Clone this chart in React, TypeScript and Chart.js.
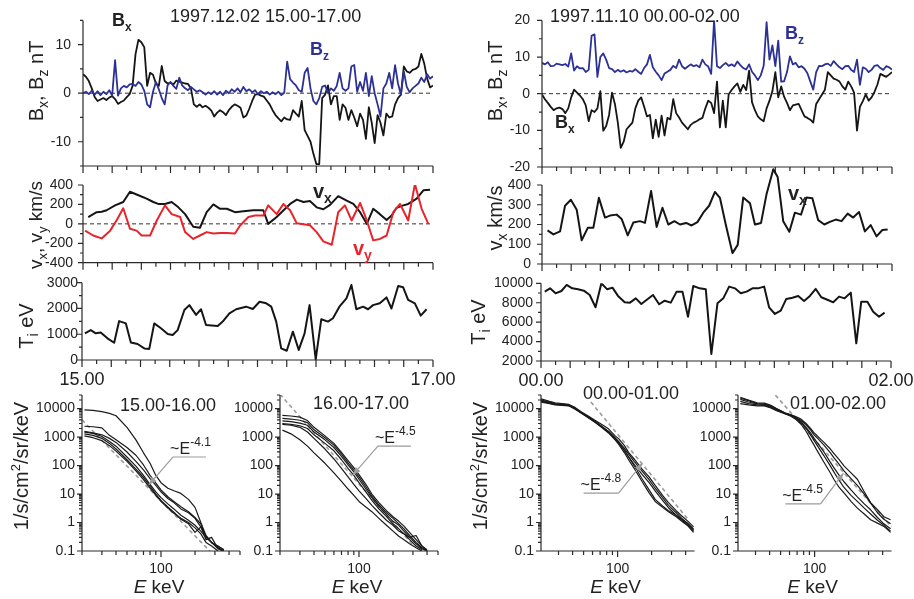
import React, { useEffect, useRef } from 'react';
import { Chart, registerables } from 'chart.js';
Chart.register(...registerables);

const W = 914, H = 599;
const FONT = '"Liberation Sans", Arial, Helvetica, sans-serif';
const INK = '#222222';
const BLACK = '#151515';
const BLUE = '#2c3194';
const RED = '#e8242b';
const GRAY = '#9c9c9c';

// ---------------- time axis (minutes from start of interval) ----------------
const T_MAJOR = [0, 10, 20, 30, 40, 50, 60, 70, 80, 90, 100, 110, 120];
const T_MINOR = [5, 15, 25, 35, 45, 55, 65, 75, 85, 95, 105, 115];
const TIME_B = Array.from({ length: 121 }, (_, i) => i); // 1-min samples

// ---------------- 1997.12.02 ----------------
const BX_L = [3.9, 3.4, 2.5, 1.0, -0.8, -1.6, -1.3, -1.0, -1.4, -0.9,
  -0.6, -1.2, -2.2, -1.8, -1.5, -0.8, -0.2, 1.5, 8.0, 11.0,
  10.5, 9.5, 1.5, 4.2, 3.8, 2.0, 1.5, 5.6, 2.5, 2.0,
  2.2, 1.8, 2.6, 2.4, 2.2, 2.0, 1.9, 1.0, -2.3, -2.8,
  -2.3, -2.9, -2.6, -3.0, -3.6, -4.8, -4.0, -3.5, -3.9, -4.5,
  -3.5, -2.8, -2.3, -2.6, -3.0, -5.0, -4.6, -3.2, -1.6, -0.3,
  -0.2, -0.5, -0.7, -1.5, -2.3, -3.5, -4.5, -5.2, -5.8, -5.0,
  -5.4, -5.5, -3.5, -4.2, -4.8, -1.6, -7.6, -8.8, -10.0, -12.5,
  -14.6, -14.6, -1.0, -0.3, 1.6, -2.3, -0.6, -0.6, -5.5, -2.3,
  -3.0, -5.5, -3.5, -5.0, -6.8, -4.2, -5.5, -9.4, -2.9, -6.1,
  -10.3, -4.5, -6.1, -8.7, -4.2, -5.0, -4.8, -2.3, -1.0, -0.3,
  5.5, 4.5, 4.2, 4.8, 5.0, 5.5, 8.1, 6.1, 3.0, 1.2, 1.6];
const BZ_L = [0, 0.3, -0.2, 0.5, -0.3, 0.4, -0.4, 0.3, -0.2, 0.6,
  -0.5, 6.8, -0.5, 1.0, 1.5, 1.2, 1.8, 1.9, 1.5, 2.3,
  1.8, 0.5, -2.3, -2.9, 0.3, 2.3, 0.8, -1.0, -2.3, 1.6,
  2.3, 1.5, 0.9, 3.2, 1.6, 1.0, 0.6, 1.3, 0.8, 0.3,
  0.6, 0.2, -0.3, 0.2, -0.2, 0.4, -0.3, 0.3, -0.4, 0.5,
  0.0, 0.8, 0.3, 1.0, 0.2, 1.3, 0.4, 0.8, 0.2, 0.6,
  -0.2, 0.4, 0.0, 0.3, -0.3, 0.2, -0.2, 0.3, -0.4, 0.1,
  6.5, 2.9, 2.2, 1.6, 0.6, 0.3, 4.2, 5.2, 1.0, -1.6,
  -2.3, -1.0, 1.3, 1.6, 0.0, 1.0, 0.5, 1.5, 4.2, 1.0,
  0.5, 1.0, 5.5, 5.8, 0.3, 2.3, 0.5, 4.2, -0.6, 3.5,
  0.0, -2.3, -4.8, 1.0, 2.0, 4.2, 1.0, 5.8, 2.0, -0.3,
  4.5, 1.3, 0.2, 1.0, 1.5, 2.0, 3.2, 2.3, 3.9, 3.0, 3.5];

const VX_L_T = [1.8, 4.7, 6.4, 8.1, 11, 13.8, 16.1, 19, 21.8, 24.1, 25.8, 28.1, 30.4, 32.7, 35, 37.8, 40.1, 42.4, 44.7, 47,
  49.3, 52.1, 55, 58.4, 61.8, 63.5, 66.4, 69.3, 71, 73.3, 75.6, 77.8, 80.1, 82.4, 84.7, 87.5, 90.4, 92.7, 95, 97.3,
  99.5, 101.8, 104.1, 105.8, 107.5, 109.8, 111.5, 114.4, 116.7, 119];
const VX_L = [70, 120, 125, 140, 190, 225, 330, 295, 260, 225, 205, 205, 225, 170, 100, -30, -40, 120, 200, 155,
  155, 120, 130, 140, 140, 0, 70, 155, 205, 250, 225, 235, 170, 150, 195, 285, 240, 205, 120, 0,
  155, 100, 40, 85, 165, 190, 205, 260, 345, 350];
const VY_L_T = [0.7, 3.5, 6.4, 9.3, 11.5, 13.8, 16.1, 18.4, 20.1, 23, 25.3, 28.1, 30.4, 33.3, 35, 37.8, 40.1, 42.4, 44.7, 47,
  49.3, 52.1, 53.8, 56.7, 59, 61.8, 63.5, 66.4, 68.7, 71, 73.3, 75.6, 77.8, 80.1, 82.4, 85.3, 87.5, 89.8, 92.1, 95,
  97.3, 99.5, 101.8, 104.1, 106.4, 108.7, 111.5, 113.8, 116.1, 118.4];
const VY_L = [-70, -120, -150, -70, 35, 160, -50, -70, -120, -120, 35, 190, 100, 70, -85, -155, -120, -85, -100, -95,
  -95, -100, -20, 70, 85, 85, 190, 100, 205, 140, 5, -5, -15, -85, -180, -215, 120, 190, 35, 215,
  35, -170, -155, -120, 120, 205, 35, 410, 155, 0];

const TI_L_T = [1, 3, 4.7, 6.4, 8.7, 11, 12.7, 15, 16.7, 19, 21.3, 23, 24.7, 27, 29.3, 31, 32.7, 35, 36.7, 39,
  40.7, 42.4, 46.4, 48.1, 50.4, 52.7, 56.1, 58.4, 60.7, 63, 64.7, 66.4, 68.1, 70, 72.1, 74.1, 76.1, 77.8, 79.9, 81.8,
  84.1, 85.8, 88, 90.4, 92.1, 93.8, 96.1, 97.8, 99.5, 101.8, 104.1, 105.8, 108.1, 109.8, 111.5, 113.8, 115.8, 117.8];
const TI_L = [1035, 1160, 1035, 1070, 840, 670, 1510, 1420, 680, 620, 450, 430, 1420, 1230, 1010, 970, 1160, 1940, 2130, 1750,
  1970, 1360, 1320, 1490, 1810, 1970, 2070, 1980, 2260, 2200, 2070, 1490, 450, 360, 1100, 390, 1035, 2130, 25, 1580,
  1490, 1620, 2070, 2390, 2910, 1970, 2070, 1970, 2130, 2200, 2430, 2000, 2870, 2820, 2330, 2200, 1720, 1970];

// ---------------- 1997.11.10 ----------------
const BX_R = [-0.2, -1.5, -2.5, -3.6, -4.5, -4.0, -3.8, -4.2, -5.3, -4.0,
  -1.0, 1.1, 0.3, -0.5, -1.5, -3.2, -7.5, -4.5, -5.0, -4.0,
  0.7, -10.1, -8.8, -5.8, 0.3, -2.8, -7.9, -14.8, -13.1, -9.7,
  -8.8, -7.9, -4.0, -1.9, -1.0, -3.5, -6.2, -5.8, -12.2, -7.1,
  -11.8, -6.0, -11.4, -6.6, -7.0, -1.5, -5.3, -6.5, -7.9, -8.8,
  -9.7, -8.5, -7.9, -7.5, -7.0, -6.6, -4.0, -1.9, -2.5, -5.3,
  3.3, -9.2, -1.9, -9.2, -0.2, 1.0, 2.0, 2.8, 0.5, 2.4,
  1.0, 6.3, -2.3, -4.5, -6.2, -7.0, -7.5, -4.0, -1.9, 0.7,
  5.9, -1.0, 2.0, -0.8, -2.5, -4.5, -3.2, -3.0, -2.8, -4.5,
  -6.2, -6.6, -7.1, -7.9, -2.8, -1.5, -0.2, 1.1, 5.9, 5.0,
  4.1, 3.8, 3.3, 2.0, 1.1, 3.3, 2.0, 0.3, -10.1, -3.6,
  -2.0, -0.2, -1.9, -1.0, 0.5, 2.5, 5.4, 5.0, 4.6, 5.2, 5.9];
const BZ_R = [8.4, 8.0, 8.6, 7.5, 7.6, 8.2, 8.0, 7.8, 8.1, 7.4,
  11.0, 6.3, 7.5, 6.9, 7.0, 5.9, 6.5, 15.8, 16.2, 4.6,
  10.0, 11.0, 9.3, 7.0, 6.7, 5.9, 6.5, 6.0, 6.4, 5.8,
  6.2, 6.0, 6.7, 6.0, 5.4, 7.0, 8.0, 10.6, 7.2, 6.0,
  5.0, 3.7, 5.5, 6.0, 6.5, 7.6, 7.0, 9.3, 7.5, 6.8,
  7.4, 8.0, 7.5, 7.8, 7.2, 9.3, 8.0, 7.4, 5.4, 20.0,
  7.5, 7.0, 7.8, 8.4, 7.6, 8.0, 7.5, 8.8, 7.8, 7.0,
  6.6, 8.0, 6.0, 5.0, 3.7, 5.0, 7.6, 19.5, 9.3, 13.2,
  7.5, 14.5, 3.3, 3.4, 5.9, 10.2, 8.0, 8.4, 7.2, 7.5,
  6.8, 5.6, 3.3, 1.1, 5.9, 7.6, 7.5, 8.0, 8.2, 7.6,
  8.9, 8.0, 7.2, 6.7, 7.5, 7.6, 6.5, 5.9, 9.3, 2.4,
  7.2, 6.8, 5.9, 6.5, 7.6, 7.8, 7.0, 6.5, 7.5, 7.2, 6.6];

const VX_R_T = [1.9, 3.9, 6.2, 7.9, 9.9, 11.9, 13.6, 15.7, 17.6, 19.5, 21.6, 23.3, 25.6, 27.3, 29.4, 31.3, 33.6, 35.3, 37.4, 39.3,
  41.3, 43.3, 45.4, 47.3, 49.4, 51.3, 53.3, 55.3, 57.3, 59.3, 61, 63, 65.3, 67.1, 69, 71.3, 73, 75.1, 77, 79.3,
  80.8, 82.7, 84.8, 86.7, 88.8, 90.7, 92.7, 94.7, 96.8, 98.7, 100.7, 102.7, 104.8, 106.7, 108.7, 110.7, 112.7, 114.7, 116.7, 118.5];
const VX_R = [170, 150, 165, 295, 325, 275, 120, 183, 183, 335, 235, 245, 250, 228, 145, 210, 217, 208, 370, 188,
  285, 200, 217, 200, 208, 195, 212, 260, 295, 365, 335, 200, 55, 97, 337, 308, 200, 208, 355, 480,
  440, 217, 163, 260, 250, 337, 333, 222, 200, 213, 225, 217, 255, 235, 263, 165, 197, 140, 172, 175];

const TI_R_T = [1.3, 3.1, 5, 7, 8.8, 10.7, 12.7, 14.7, 16.7, 18.7, 20.7, 22.7, 24.5, 26.4, 28.7, 30.5, 32.5, 34.4, 36.5, 38.4,
  40.5, 42.4, 44.5, 46.5, 48.5, 50.4, 52.2, 54.4, 56.5, 58.4, 60.5, 62.5, 64.5, 66.5, 68.5, 70.5, 72.5, 74.4, 76.5, 78.2,
  80.2, 82.2, 84.1, 86.2, 88.2, 90.2, 92.2, 94.2, 96.1, 98.4, 100.2, 102.2, 104.1, 106.2, 108.1, 109.8, 111.9, 113.9, 115.9, 117.8];
const TI_R = [9140, 9480, 8970, 9210, 9830, 9480, 9380, 9240, 8800, 7530, 10000, 9380, 9550, 8700, 8040, 8010, 8450, 7870, 8350, 8800,
  7840, 8210, 8010, 9140, 9140, 6560, 9720, 9480, 9380, 2720, 7940, 8450, 9660, 9480, 8970, 9140, 9480, 9480, 9660, 7530,
  6840, 7180, 8390, 8520, 8700, 8180, 8700, 9420, 8560, 8280, 8040, 8630, 8450, 9040, 3820, 8110, 8110, 7080, 6560, 6980];

// ---------------- energy spectra ----------------
const E_L1 = [21, 25, 30, 35, 40, 50, 60, 70, 80, 90, 100, 115, 130, 150, 175, 200, 225, 250, 280, 320, 360];
const L1_C1 = [9000, 8600, 7800, 6800, 5600, 2200, 800, 280, 120, 45, 25, 16, 13, 10.5, 6.5, 3.4, 1.0, 0.35, 0.2, 0.14, 0.11];
const L1_C2 = [2400, 2300, 2100, 1150, 800, 430, 230, 105, 45, 24, 14, 8, 5.5, 3.6, 2.4, 1.5, 0.9, 0.3, 0.2, 0.15, 0.11];
const L1_C3 = [1600, 1400, 1200, 900, 650, 300, 140, 70, 35, 20, 12, 7, 5, 3, 2.2, 1.4, 0.7, 0.35, 0.2, 0.12, 0.1];
const L1_C4 = [1500, 1350, 1050, 700, 480, 200, 95, 45, 22, 12, 7.5, 4.5, 3, 1.8, 1.2, 0.8, 0.5, 0.3, 0.2, 0.13, 0.1];
const L1_C5 = [1300, 1150, 900, 600, 380, 160, 75, 38, 19, 10, 6, 3.5, 2.3, 1.3, 0.9, 0.45, 0.7, 0.25, 0.3, 0.12, 0.1];
const L1_C6 = [1100, 950, 750, 500, 320, 140, 65, 32, 16, 9, 5.5, 3.2, 2.1, 1.4, 1.0, 0.65, 0.4, 0.2, 0.15, 0.1, null];
const L1_FIT_E = [20, 270];
const L1_FIT_F = [4000, 0.1];

const E_L2 = [21, 25, 30, 35, 40, 50, 60, 70, 80, 90, 100, 115, 130, 150, 175, 200, 225, 250, 280, 320, 360, 400];
const L2_C1 = [5800, 5500, 5000, 3800, 2200, 1100, 600, 290, 150, 85, 48, 22, 10, 5, 2.6, 1.6, 1.1, 0.75, 0.45, 0.25, 0.15, 0.11];
const L2_C2 = [4500, 4300, 3900, 3200, 1800, 950, 520, 250, 125, 70, 40, 18, 8.5, 4.2, 2.2, 1.4, 0.9, 0.6, 0.35, 0.2, 0.13, 0.1];
const L2_C3 = [3700, 3500, 3100, 2600, 1500, 800, 430, 210, 105, 60, 33, 15, 7.5, 3.6, 1.9, 1.1, 0.8, 0.5, 0.3, 0.35, 0.15, 0.1];
const L2_C4 = [3000, 2800, 2500, 2000, 1200, 600, 330, 160, 80, 45, 25, 12, 6, 3, 1.6, 0.9, 0.6, 0.4, 0.25, 0.15, 0.11, null];
const L2_C5 = [2800, 2600, 2200, 1500, 900, 380, 170, 80, 40, 22, 13, 7, 4, 2.2, 1.2, 0.8, 0.5, 0.4, 0.3, 0.18, 0.12, 0.1];
const L2_C6 = [1750, 1300, 800, 480, 280, 120, 55, 28, 15, 9, 5.5, 3.5, 2.4, 1.4, 0.8, 0.5, 0.33, 0.25, 0.18, 0.13, 0.1, null];
const L2_FIT_E = [20, 300];
const L2_FIT_F = [32000, 0.16];

const E_R1 = [21, 25, 28, 32, 37, 42, 48, 55, 63, 72, 83, 95, 102, 115, 125, 140, 164, 190, 215, 250, 282, 330, 370, 420, 470];
const R1_C1 = [22000, 18000, 16000, 15000, 14000, 11000, 7600, 5500, 3900, 2800, 1950, 1100, 880, 500, 290, 170, 76, 40, 20, 9, 5, 2.6, 1.7, 1.1, 0.7];
const R1_C2 = [19000, 16000, 14500, 14000, 13000, 10000, 7000, 5000, 3500, 2400, 1600, 950, 700, 400, 250, 140, 65, 32, 16, 7.5, 4, 2.2, 1.4, 0.9, 0.6];
const R1_C3 = [17000, 15000, 13500, 13000, 12500, 9500, 6800, 4800, 3300, 2300, 1500, 850, 600, 340, 200, 110, 50, 25, 13, 6, 3.3, 1.8, 1.2, 0.8, 0.5];
const R1_C4 = [20000, 17000, 15000, 14500, 13500, 10500, 7200, 5200, 3600, 2400, 1500, 900, 650, 330, 200, 100, 35, 14, 6.5, 3.8, 2.6, 1.8, 1.3, 0.9, 0.55];
const R1_C5 = [18000, 15500, 14000, 13500, 12800, 9800, 6900, 4900, 3400, 2200, 1400, 800, 560, 280, 160, 80, 28, 11, 5.5, 3.4, 2.4, 1.6, 1.1, 0.75, 0.45];
const R1_FIT_E = [58, 420];
const R1_FIT_F = [17000, 1.3];

const E_R2 = [22, 26, 31, 36, 41, 46, 50, 55, 61, 68, 75, 84, 92, 99, 105, 121, 138, 148, 165, 182, 210, 239, 275, 313, 360, 410, 470];
const R2_C1 = [25000, 20000, 16000, 15500, 13000, 10000, 8500, 7000, 6200, 5200, 4400, 3000, 2000, 1400, 1130, 650, 380, 270, 160, 98, 55, 33, 12, 5, 2.8, 1.6, 1.25];
const R2_C2 = [23000, 19000, 15000, 14500, 12500, 9800, 8300, 6900, 6100, 5000, 4000, 2700, 1800, 1200, 950, 520, 280, 190, 110, 65, 35, 20, 10, 4.8, 2.2, 1.3, 0.9];
const R2_C3 = [21000, 17000, 14500, 14000, 12000, 9500, 8000, 6800, 6000, 4800, 3600, 2200, 1400, 900, 650, 300, 130, 85, 45, 27, 14, 8, 4.5, 2.8, 1.5, 0.9, 0.6];
const R2_C4 = [18000, 15000, 13500, 13000, 11000, 9000, 7800, 6600, 5800, 4600, 3400, 2000, 1200, 750, 520, 220, 95, 60, 30, 17, 9, 5.5, 3.2, 2.0, 1.2, 0.8, 0.5];
const R2_C5 = [15000, 13500, 12500, 12500, 10500, 8500, 7500, 6500, 5500, 4200, 3000, 1600, 850, 520, 340, 130, 55, 33, 17, 11, 5.5, 3.2, 2.0, 1.25, 0.95, 0.73, 0.45];
const R2_FIT_E = [45, 480];
const R2_FIT_F = [29700, 0.7];

const SPEC_Y_LABELS = [0.1, 1, 10, 100, 1000, 10000];
const SPEC_Y_MINOR: number[] = [];
for (const d of [0.1, 1, 10, 100, 1000, 10000]) for (let k = 2; k <= 9; k++) if (d * k <= 30000) SPEC_Y_MINOR.push(d * k);
const SPEC_X_MAJOR = [100];
const SPEC_X_MINOR = [20, 30, 40, 50, 60, 70, 80, 90, 200, 300, 400, 500];

// annotation anchors (in data coordinates: keV, flux)
const ANN_L1 = { e0: 128, e1: 250, f: 200, ea: 78, fa: 21, from: 'start', exp: '-4.1' };
const ANN_L2 = { e0: 147, e1: 288, f: 480, ea: 88, fa: 46, from: 'start', exp: '-4.5' };
const ANN_R1 = { e0: 50, e1: 102, f: 10.8, ea: 166, fa: 122, from: 'end', exp: '-4.8' };
const ANN_R2 = { e0: 55, e1: 113, f: 4.5, ea: 180, fa: 54, from: 'end', exp: '-4.5' };

// ---------------- helpers ----------------
type Seg = { t: string; s?: 'sub' | 'sup'; i?: boolean };
type RichOpt = { size: number; color?: string; bold?: boolean; align?: 'left' | 'center'; rot?: boolean; sc?: number; rise?: number; drop?: number };

function drawRich(ctx: CanvasRenderingContext2D, segs: Seg[], x: number, y: number, o: RichOpt) {
  const sc = o.sc ?? 0.68;
  const fontFor = (sg: Seg) => `${sg.i ? 'italic ' : ''}${o.bold ? 'bold ' : ''}${sg.s ? Math.round(o.size * sc) : o.size}px ${FONT}`;
  ctx.save();
  let w = 0;
  for (const sg of segs) { ctx.font = fontFor(sg); w += ctx.measureText(sg.t).width; }
  ctx.translate(x, y);
  if (o.rot) ctx.rotate(-Math.PI / 2);
  let cx = o.align === 'center' ? -w / 2 : 0;
  ctx.fillStyle = o.color ?? INK;
  ctx.textBaseline = 'alphabetic';
  ctx.textAlign = 'left';
  for (const sg of segs) {
    ctx.font = fontFor(sg);
    const dy = sg.s === 'sub' ? o.size * (o.drop ?? 0.26) : sg.s === 'sup' ? -o.size * (o.rise ?? 0.42) : 0;
    ctx.fillText(sg.t, cx, dy);
    cx += ctx.measureText(sg.t).width;
  }
  ctx.restore();
}

function plainText(ctx: CanvasRenderingContext2D, t: string, x: number, y: number, size: number, align: CanvasTextAlign = 'left') {
  ctx.save();
  ctx.font = `${size}px ${FONT}`;
  ctx.fillStyle = INK;
  ctx.textAlign = align;
  ctx.textBaseline = 'alphabetic';
  ctx.fillText(t, x, y);
  ctx.restore();
}

function series(xs: number[], ys: (number | null)[], color: string, width: number, extra: any = {}) {
  return {
    data: xs.map((x, i) => ({ x, y: ys[i] })),
    borderColor: color, borderWidth: width, pointRadius: 0, tension: 0, fill: false, spanGaps: false,
    borderJoinStyle: 'round', ...extra,
  };
}
function zeroLine(a: number, b: number) {
  return series([a, b], [0, 0], '#333', 1, { borderDash: [4, 3], order: 9 });
}
function fitLine(es: number[], fs: number[]) {
  return series(es, fs, GRAY, 1.6, { borderDash: [4, 3], order: 9 });
}
function curves(es: number[], list: (number | null)[][]) {
  return list.map((c) => series(es, c, '#1a1a1a', 1.2, { order: 1 }));
}

function drawAnn(chart: any, a: any) {
  const ctx: CanvasRenderingContext2D = chart.ctx;
  const xs = chart.scales.x, ys = chart.scales.y;
  const x0 = xs.getPixelForValue(a.e0), x1 = xs.getPixelForValue(a.e1), y = ys.getPixelForValue(a.f);
  const xa = xs.getPixelForValue(a.ea), ya = ys.getPixelForValue(a.fa);
  const bx = a.from === 'start' ? x0 : x1;
  ctx.save();
  ctx.strokeStyle = GRAY; ctx.fillStyle = GRAY; ctx.lineWidth = 1.2;
  ctx.beginPath();
  ctx.moveTo(x0, y); ctx.lineTo(x1, y);
  ctx.moveTo(bx, y); ctx.lineTo(xa, ya);
  ctx.stroke();
  const ang = Math.atan2(ya - y, xa - bx), L = 8, hw = 3.2;
  ctx.beginPath();
  ctx.moveTo(xa, ya);
  ctx.lineTo(xa - L * Math.cos(ang) + hw * Math.sin(ang), ya - L * Math.sin(ang) - hw * Math.cos(ang));
  ctx.lineTo(xa - L * Math.cos(ang) - hw * Math.sin(ang), ya - L * Math.sin(ang) + hw * Math.cos(ang));
  ctx.closePath(); ctx.fill();
  ctx.restore();
  drawRich(ctx, [{ t: '~E' }, { t: a.exp, s: 'sup' }], x0 - 3, y - 3, { size: 16, sc: 0.72, rise: 0.5 });
}

// ---------------- panels ----------------
const TX = { min: 0, max: 120, log: false, labels: [] as number[], major: T_MAJOR, minor: T_MINOR, majorLen: 7, minorLen: 4, pad: 4 };
const SXL = { min: 20, max: 500, log: true, labels: [100], major: SPEC_X_MAJOR, minor: SPEC_X_MINOR, majorLen: 6, minorLen: 4, pad: 10 };
const SXR = { ...SXL, min: 21, max: 480 };
const SY = { min: 0.1, max: 30000, log: true, labels: SPEC_Y_LABELS, major: SPEC_Y_LABELS, minor: SPEC_Y_MINOR, majorLen: 5, minorLen: 3, pad: 7 };
const yAx = (min: number, max: number, labels: number[], minor: number[], pad: number) =>
  ({ min, max, log: false, labels, major: labels, minor, majorLen: 5, minorLen: 3, pad });

const YTITLE_B: Seg[] = [{ t: 'B' }, { t: 'x', s: 'sub' }, { t: ', B' }, { t: 'z', s: 'sub' }, { t: ' nT' }];
const YTITLE_TI: Seg[] = [{ t: 'T' }, { t: 'i', s: 'sub' }, { t: ' eV' }];
const YTITLE_SP: Seg[] = [{ t: '1/s/cm' }, { t: '2', s: 'sup' }, { t: '/sr/keV' }];
const EKEV: Seg[] = [{ t: 'E', i: true }, { t: ' keV' }];

const PANELS: any[] = [
  {
    plot: [83, 11, 433, 166], x: TX, y: yAx(-15, 15, [-10, 0, 10], [-15, -5, 5, 15], 12),
    datasets: [zeroLine(0, 120), series(TIME_B, BX_L, BLACK, 1.8, { order: 2 }), series(TIME_B, BZ_L, BLUE, 1.8, { order: 1 })],
    overlay: (ch: any, ctx: CanvasRenderingContext2D) => {
      plainText(ctx, '1997.12.02 15.00-17.00', 170, 22, 18);
      drawRich(ctx, YTITLE_B, 43, 81, { size: 20, rot: true, align: 'center' });
      drawRich(ctx, [{ t: 'B' }, { t: 'x', s: 'sub' }], 112, 26, { size: 18, bold: true });
      drawRich(ctx, [{ t: 'B' }, { t: 'z', s: 'sub' }], 310, 55, { size: 18, bold: true, color: BLUE });
    },
  },
  {
    plot: [83, 185, 433, 262.7], x: TX, y: yAx(-400, 400, [-400, -200, 0, 200, 400], [-300, -100, 100, 300], 10),
    datasets: [zeroLine(0, 120), series(VX_L_T, VX_L, BLACK, 2, { order: 2 }), series(VY_L_T, VY_L, RED, 2, { order: 1 })],
    overlay: (ch: any, ctx: CanvasRenderingContext2D) => {
      drawRich(ctx, [{ t: 'v' }, { t: 'x', s: 'sub' }, { t: ', v' }, { t: 'y', s: 'sub' }, { t: ' km/s' }], 42, 225, { size: 19, rot: true, align: 'center' });
      drawRich(ctx, [{ t: 'v' }, { t: 'x', s: 'sub' }], 313, 198, { size: 20, bold: true });
      drawRich(ctx, [{ t: 'v' }, { t: 'y', s: 'sub' }], 353, 255, { size: 20, bold: true, color: RED });
    },
  },
  {
    plot: [82, 282.7, 433, 360], x: TX, y: yAx(0, 3000, [0, 1000, 2000, 3000], [500, 1500, 2500], 4),
    datasets: [series(TI_L_T, TI_L, BLACK, 2)],
    overlay: (ch: any, ctx: CanvasRenderingContext2D) => {
      drawRich(ctx, YTITLE_TI, 33, 326, { size: 20, rot: true, align: 'center' });
      plainText(ctx, '15.00', ch.scales.x.getPixelForValue(0), 385, 18, 'center');
      plainText(ctx, '17.00', ch.scales.x.getPixelForValue(120), 385, 18, 'center');
    },
  },
  {
    plot: [542, 12, 892, 167], x: TX, y: yAx(-20, 20, [-20, -10, 0, 10, 20], [-15, -5, 5, 15], 12),
    datasets: [zeroLine(0, 120), series(TIME_B, BX_R, BLACK, 1.8, { order: 2 }), series(TIME_B, BZ_R, BLUE, 1.8, { order: 1 })],
    overlay: (ch: any, ctx: CanvasRenderingContext2D) => {
      plainText(ctx, '1997.11.10 00.00-02.00', 550, 22, 18);
      drawRich(ctx, YTITLE_B, 502, 81, { size: 20, rot: true, align: 'center' });
      drawRich(ctx, [{ t: 'B' }, { t: 'z', s: 'sub' }], 785, 39, { size: 18, bold: true, color: BLUE });
      drawRich(ctx, [{ t: 'B' }, { t: 'x', s: 'sub' }], 555, 128, { size: 18, bold: true });
    },
  },
  {
    plot: [542, 185, 892, 264], x: TX, y: yAx(0, 400, [0, 100, 200, 300, 400], [50, 150, 250, 350], 11),
    datasets: [series(VX_R_T, VX_R, BLACK, 2, { clip: false })],
    overlay: (ch: any, ctx: CanvasRenderingContext2D) => {
      drawRich(ctx, [{ t: 'v' }, { t: 'x', s: 'sub' }, { t: ' km/s' }], 502, 218, { size: 20, rot: true, align: 'center' });
      drawRich(ctx, [{ t: 'v' }, { t: 'x', s: 'sub' }], 788, 200, { size: 20, bold: true });
    },
  },
  {
    plot: [541, 283.3, 891, 361], x: TX, y: yAx(2000, 10000, [2000, 4000, 6000, 8000, 10000], [3000, 5000, 7000, 9000], 8),
    datasets: [series(TI_R_T, TI_R, BLACK, 2)],
    overlay: (ch: any, ctx: CanvasRenderingContext2D) => {
      drawRich(ctx, YTITLE_TI, 485, 322, { size: 20, rot: true, align: 'center' });
      plainText(ctx, '00.00', ch.scales.x.getPixelForValue(0), 386, 18, 'center');
      plainText(ctx, '02.00', ch.scales.x.getPixelForValue(120), 386, 18, 'center');
    },
  },
  {
    plot: [82, 395, 240, 551], x: SXL, y: SY,
    datasets: [fitLine(L1_FIT_E, L1_FIT_F), ...curves(E_L1, [L1_C1, L1_C2, L1_C3, L1_C4, L1_C5, L1_C6])],
    overlay: (ch: any, ctx: CanvasRenderingContext2D) => {
      drawRich(ctx, YTITLE_SP, 28, 466, { size: 20, rot: true, align: 'center', sc: 0.65, rise: 0.38 });
      plainText(ctx, '15.00-16.00', 120, 411, 18);
      drawRich(ctx, EKEV, ch.scales.x.getPixelForValue(100) - 2, 593, { size: 19, align: 'center' });
      drawAnn(ch, ANN_L1);
    },
  },
  {
    plot: [280, 395, 438, 551], x: SXL, y: SY,
    datasets: [fitLine(L2_FIT_E, L2_FIT_F), ...curves(E_L2, [L2_C1, L2_C2, L2_C3, L2_C4, L2_C5, L2_C6])],
    overlay: (ch: any, ctx: CanvasRenderingContext2D) => {
      plainText(ctx, '16.00-17.00', 313, 409, 18);
      drawRich(ctx, EKEV, ch.scales.x.getPixelForValue(100) - 2, 593, { size: 19, align: 'center' });
      drawAnn(ch, ANN_L2);
    },
  },
  {
    plot: [541, 395, 694.6, 551], x: SXR, y: SY,
    datasets: [fitLine(R1_FIT_E, R1_FIT_F), ...curves(E_R1, [R1_C1, R1_C2, R1_C3, R1_C4, R1_C5])],
    overlay: (ch: any, ctx: CanvasRenderingContext2D) => {
      drawRich(ctx, YTITLE_SP, 487, 466, { size: 20, rot: true, align: 'center', sc: 0.65, rise: 0.38 });
      plainText(ctx, '00.00-01.00', 583, 399, 18);
      drawRich(ctx, EKEV, ch.scales.x.getPixelForValue(100) - 2, 593, { size: 19, align: 'center' });
      drawAnn(ch, ANN_R1);
    },
  },
  {
    plot: [738, 395, 891.6, 551], x: SXR, y: SY,
    datasets: [fitLine(R2_FIT_E, R2_FIT_F), ...curves(E_R2, [R2_C1, R2_C2, R2_C3, R2_C4, R2_C5])],
    overlay: (ch: any, ctx: CanvasRenderingContext2D) => {
      plainText(ctx, '01.00-02.00', 790, 409, 18);
      drawRich(ctx, EKEV, ch.scales.x.getPixelForValue(100) - 2, 593, { size: 19, align: 'center' });
      drawAnn(ch, ANN_R2);
    },
  },
];

const YW = 50, XH = 30;

function axisOpts(ax: any, dir: 'x' | 'y') {
  return {
    type: ax.log ? 'logarithmic' : 'linear',
    position: dir === 'x' ? 'bottom' : 'left',
    min: ax.min, max: ax.max, bounds: 'data',
    grid: { display: false, drawTicks: false },
    border: { display: false },
    ticks: {
      display: ax.labels.length > 0, autoSkip: false, maxRotation: 0, minRotation: 0, padding: ax.pad,
      color: INK, font: { family: FONT, size: 14 },
      callback: (v: any) => String(v),
    },
    afterBuildTicks: (s: any) => {
      const vals = ax.labels.length ? ax.labels : [ax.min];
      s.ticks = vals.map((v: number) => ({ value: v }));
    },
    afterFit: (s: any) => { if (dir === 'x') s.height = XH; else s.width = YW; },
  };
}

function decorate(chart: any, p: any) {
  const ctx: CanvasRenderingContext2D = chart.ctx;
  const xs = chart.scales.x, ys = chart.scales.y;
  const { left, right, top, bottom } = chart.chartArea;
  ctx.save();
  ctx.strokeStyle = '#2a2a2a';
  ctx.lineWidth = 1.2;
  ctx.beginPath();
  ctx.moveTo(left, top); ctx.lineTo(left, bottom); ctx.lineTo(right, bottom);
  const inX = (v: number) => v >= p.x.min - 1e-9 && v <= p.x.max + 1e-9;
  const inY = (v: number) => v >= p.y.min - 1e-9 && v <= p.y.max + 1e-9;
  for (const v of p.x.major) if (inX(v)) { const px = xs.getPixelForValue(v); ctx.moveTo(px, bottom); ctx.lineTo(px, bottom + p.x.majorLen); }
  for (const v of p.x.minor) if (inX(v)) { const px = xs.getPixelForValue(v); ctx.moveTo(px, bottom); ctx.lineTo(px, bottom + p.x.minorLen); }
  for (const v of p.y.major) if (inY(v)) { const py = ys.getPixelForValue(v); ctx.moveTo(left - p.y.majorLen, py); ctx.lineTo(left, py); }
  for (const v of p.y.minor) if (inY(v)) { const py = ys.getPixelForValue(v); ctx.moveTo(left - p.y.minorLen, py); ctx.lineTo(left, py); }
  ctx.stroke();
  ctx.restore();
  if (p.overlay) p.overlay(chart, ctx);
}

function makeChart(canvas: HTMLCanvasElement, p: any) {
  const [l, t, r, b] = p.plot;
  return new Chart(canvas, {
    type: 'line',
    data: { datasets: p.datasets },
    options: {
      animation: false,
      responsive: false,
      maintainAspectRatio: false,
      events: [],
      layout: { padding: { left: l - YW, top: t, right: W - r, bottom: H - b - XH } },
      plugins: { legend: { display: false }, tooltip: { enabled: false }, title: { display: false } },
      scales: { x: axisOpts(p.x, 'x'), y: axisOpts(p.y, 'y') } as any,
    } as any,
    plugins: [{ id: 'deco' + Math.random().toString(36).slice(2), afterDraw: (chart: any) => decorate(chart, p) }],
  } as any);
}

export default function App() {
  const refs = useRef<(HTMLCanvasElement | null)[]>([]);
  useEffect(() => {
    const charts = PANELS.map((p, i) => makeChart(refs.current[i] as HTMLCanvasElement, p));
    return () => charts.forEach((c) => c.destroy());
  }, []);
  return (
    <div style={{ position: 'absolute', left: 0, top: 0, width: W, height: H, background: '#ffffff', overflow: 'hidden' }}>
      {PANELS.map((_, i) => (
        <canvas
          key={i}
          ref={(el) => { refs.current[i] = el; }}
          width={W}
          height={H}
          style={{ position: 'absolute', left: 0, top: 0, width: W, height: H }}
        />
      ))}
    </div>
  );
}
